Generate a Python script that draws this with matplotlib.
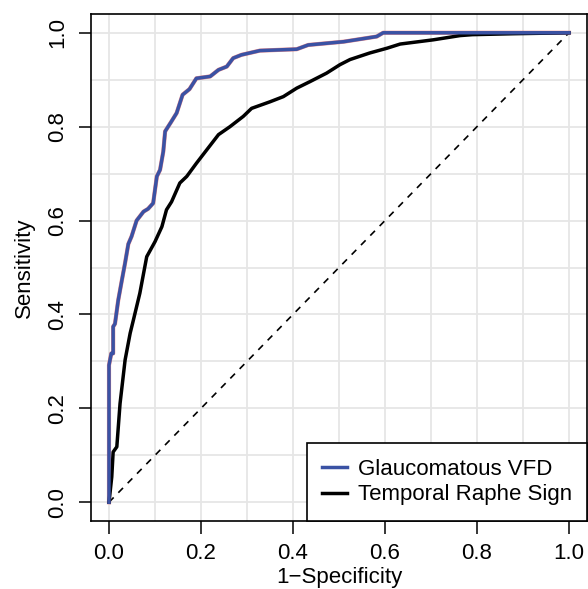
import matplotlib
matplotlib.use("Agg")
import matplotlib.pyplot as plt
import numpy as np

plt.rcParams['font.family'] = ['Liberation Sans', 'DejaVu Sans']

# ROC curves (1-specificity, sensitivity)
vfd_fpr = [0, 0, 0.005, 0.009, 0.009, 0.013, 0.02, 0.028, 0.035, 0.042, 0.049,
           0.06, 0.075, 0.085, 0.096, 0.104, 0.111, 0.118, 0.122, 0.135, 0.147,
           0.16, 0.175, 0.19, 0.22, 0.238, 0.256, 0.27, 0.288, 0.328, 0.408,
           0.433, 0.51, 0.582, 0.596, 1.0]
vfd_tpr = [0, 0.292, 0.317, 0.317, 0.374, 0.38, 0.43, 0.473, 0.51, 0.55, 0.566,
           0.6, 0.619, 0.625, 0.637, 0.694, 0.708, 0.747, 0.79, 0.81, 0.829,
           0.868, 0.88, 0.903, 0.907, 0.921, 0.928, 0.946, 0.953, 0.962, 0.965,
           0.974, 0.981, 0.992, 1.0, 1.0]

raphe_fpr = [0, 0.006, 0.009, 0.017, 0.024, 0.035, 0.046, 0.053, 0.067, 0.082,
             0.1, 0.115, 0.125, 0.136, 0.154, 0.169, 0.19, 0.212, 0.238, 0.263,
             0.292, 0.31, 0.35, 0.379, 0.408, 0.437, 0.473, 0.502, 0.524, 0.567,
             0.604, 0.633, 0.705, 0.763, 0.79, 0.88, 1.0]
raphe_tpr = [0, 0.054, 0.107, 0.118, 0.21, 0.303, 0.36, 0.388, 0.445, 0.523,
             0.555, 0.587, 0.623, 0.64, 0.68, 0.694, 0.722, 0.75, 0.783, 0.8,
             0.822, 0.839, 0.853, 0.864, 0.882, 0.896, 0.914, 0.932, 0.943, 0.957,
             0.967, 0.976, 0.985, 0.994, 0.996, 0.998, 1.0]

labels = ['Glaucomatous VFD', 'Temporal Raphe Sign']
ticks = [0.0, 0.2, 0.4, 0.6, 0.8, 1.0]
tick_labels = ['0.0', '0.2', '0.4', '0.6', '0.8', '1.0']
grid_pos = np.arange(0, 1.01, 0.1)

fig = plt.figure(figsize=(5.88, 5.89), dpi=100)
ax = fig.add_axes([90.6 / 588, 68 / 589, (587.4 - 90.6) / 588, (575 - 68) / 589])

for g in grid_pos:
    ax.axvline(g, color='#e6e6e6', lw=1.3, zorder=0)
    ax.axhline(g, color='#e6e6e6', lw=1.3, zorder=0)

ax.plot([0, 1], [0, 1], color='black', lw=1.2, ls=(0, (4, 4)), zorder=1)

ax.plot(vfd_fpr, vfd_tpr, color='#e05a5a', lw=3.0, alpha=0.7, zorder=2)
ax.plot(vfd_fpr, vfd_tpr, color='#3a52a4', lw=2.5, zorder=3, label=labels[0])
ax.plot(raphe_fpr, raphe_tpr, color='black', lw=2.5, zorder=2, label=labels[1])

ax.set_xlim(-0.04, 1.04)
ax.set_ylim(-0.04, 1.04)
ax.set_xticks(ticks)
ax.set_xticklabels(tick_labels)
ax.set_yticks(ticks)
ax.set_yticklabels(tick_labels, rotation=90, va='center')
ax.tick_params(direction='out', length=9, width=1.1, labelsize=16, pad=7)

for s in ax.spines.values():
    s.set_linewidth(1.2)

ax.set_xlabel('1\u2212Specificity', fontsize=16, labelpad=2)
ax.set_ylabel('Sensitivity', fontsize=16, labelpad=9)

leg = ax.legend(loc='lower right', bbox_to_anchor=(1, 0), borderaxespad=0,
                fancybox=False, framealpha=1, edgecolor='black', fontsize=16,
                handlelength=1.1, handletextpad=0.5, borderpad=0.7,
                labelspacing=0.2)
leg.get_frame().set_linewidth(1.2)

fig.savefig('out.png', dpi=100)
